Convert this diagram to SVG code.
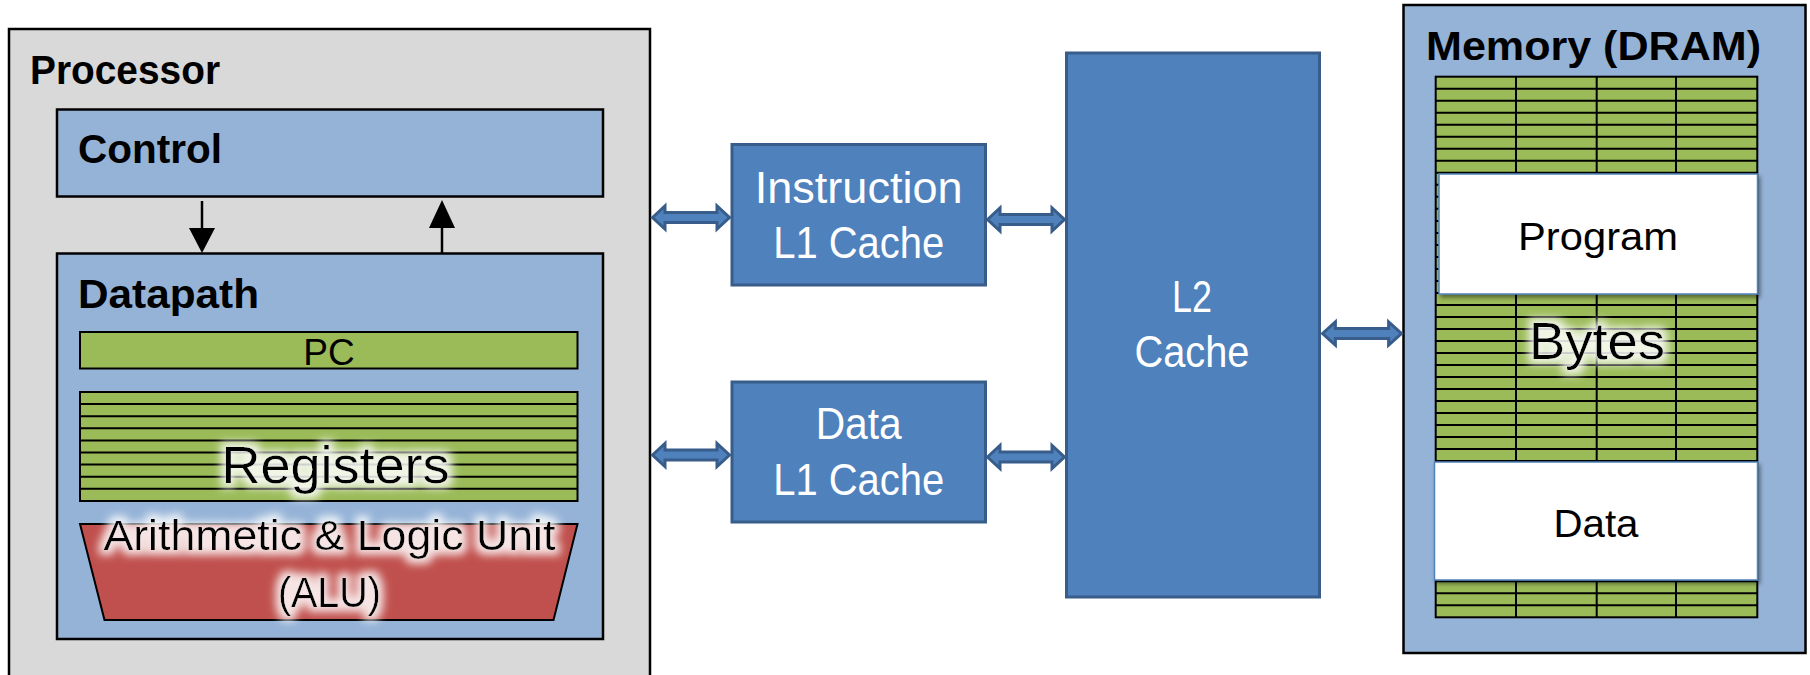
<svg xmlns="http://www.w3.org/2000/svg" width="1810" height="675" viewBox="0 0 1810 675">
<style>
.t{font-family:"Liberation Sans",Arial,sans-serif;}
.b{font-weight:bold;fill:#000;font-size:40px;}
.w{fill:#fff;font-size:44px;text-anchor:middle;}
.k{fill:#000;text-anchor:middle;}
.lt{fill:#95b3d7;stroke:#000;stroke-width:2.5;}
.gr{fill:#9bbb59;stroke:#000;stroke-width:2;}
.ln{fill:none;stroke:#000;stroke-width:2;}
.cache{fill:#4f81bd;stroke:#385d8a;stroke-width:3;}
.arr{fill:#4f81bd;stroke:#385d8a;stroke-width:3;stroke-linejoin:miter;}
.wb{fill:#fff;stroke:#4f81bd;stroke-width:1.5;}
</style>
<defs>
<filter id="glow" x="-30%" y="-60%" width="160%" height="220%">
<feMorphology in="SourceAlpha" operator="dilate" radius="5" result="d"/>
<feGaussianBlur in="d" stdDeviation="4" result="bl"/>
<feFlood flood-color="#ffffff" flood-opacity="0.85"/>
<feComposite in2="bl" operator="in" result="g"/>
<feMerge><feMergeNode in="g"/><feMergeNode in="SourceGraphic"/></feMerge>
</filter>
<filter id="shadow" x="-10%" y="-20%" width="120%" height="140%">
<feDropShadow dx="2" dy="3" stdDeviation="2" flood-color="#000" flood-opacity="0.45"/>
</filter>
<path id="dbl" d="M1.5,0 L14,-11.5 L14,-5 L66,-5 L66,-11.5 L78.5,0 L66,11.5 L66,5 L14,5 L14,11.5 Z"/>
</defs>

<g id="processor">
<rect x="9" y="29" width="641" height="660" fill="#d9d9d9" stroke="#000" stroke-width="2.5"/>
<text class="t b" x="30" y="84" textLength="190" lengthAdjust="spacingAndGlyphs">Processor</text>
</g>

<g id="control">
<rect class="lt" x="57" y="109.5" width="546" height="87"/>
<text class="t b" x="78" y="163" textLength="144" lengthAdjust="spacingAndGlyphs">Control</text>
</g>

<g id="datapath">
<rect class="lt" x="57" y="253.5" width="546" height="385.5"/>
<text class="t b" x="78" y="308" textLength="181" lengthAdjust="spacingAndGlyphs">Datapath</text>
</g>

<g id="pc">
<rect class="gr" x="80" y="332" width="497.5" height="36.5"/>
<text class="t k" x="329" y="365" font-size="37">PC</text>
</g>

<g id="registers">
<rect class="gr" x="80" y="392" width="497.5" height="109"/>
<path class="ln" d="M80,404.1H577.5M80,416.2H577.5M80,428.3H577.5M80,440.4H577.5M80,452.5H577.5M80,464.6H577.5M80,476.7H577.5M80,488.8H577.5"/>
<text class="t k" x="335.5" y="483" font-size="52" textLength="228" lengthAdjust="spacingAndGlyphs" filter="url(#glow)">Registers</text>
</g>

<g id="alu">
<path d="M80,524 L577.5,524 L553.5,620 L104.5,620 Z" fill="#c0504d" stroke="#000" stroke-width="2"/>
<g filter="url(#glow)">
<text class="t k" x="329.4" y="550" font-size="42" textLength="452" lengthAdjust="spacingAndGlyphs">Arithmetic &amp; Logic Unit</text>
<text class="t k" x="329.4" y="607" font-size="42" textLength="103" lengthAdjust="spacingAndGlyphs">(ALU)</text>
</g>
</g>

<g id="instruction-l1">
<rect class="cache" x="732" y="144.5" width="253.5" height="140.5"/>
<text class="t w" x="858.7" y="203" textLength="208" lengthAdjust="spacingAndGlyphs">Instruction</text>
<text class="t w" x="858.7" y="257.5" textLength="171" lengthAdjust="spacingAndGlyphs">L1 Cache</text>
</g>

<g id="data-l1">
<rect class="cache" x="732" y="382" width="253.5" height="140"/>
<text class="t w" x="858.7" y="439" textLength="86" lengthAdjust="spacingAndGlyphs">Data</text>
<text class="t w" x="858.7" y="495" textLength="171" lengthAdjust="spacingAndGlyphs">L1 Cache</text>
</g>

<g id="l2-cache">
<rect class="cache" x="1066.5" y="53" width="253" height="544"/>
<text class="t w" x="1192" y="312" textLength="40" lengthAdjust="spacingAndGlyphs">L2</text>
<text class="t w" x="1192" y="367" textLength="115" lengthAdjust="spacingAndGlyphs">Cache</text>
</g>

<g id="memory">
<rect x="1403.5" y="5" width="402" height="648" fill="#95b3d7" stroke="#000" stroke-width="2.5"/>
<text class="t b" x="1426" y="60" font-size="41" textLength="335" lengthAdjust="spacingAndGlyphs">Memory (DRAM)</text>
<rect class="gr" x="1435.7" y="76.7" width="321.6" height="540.6"/>
<path class="ln" stroke-width="1.8" d="M1435.7,88.7H1757.3M1435.7,100.7H1757.3M1435.7,112.7H1757.3M1435.7,124.8H1757.3M1435.7,136.8H1757.3M1435.7,148.8H1757.3M1435.7,160.8H1757.3M1435.7,172.8H1757.3M1435.7,184.8H1757.3M1435.7,196.8H1757.3M1435.7,208.8H1757.3M1435.7,220.9H1757.3M1435.7,232.9H1757.3M1435.7,244.9H1757.3M1435.7,256.9H1757.3M1435.7,268.9H1757.3M1435.7,280.9H1757.3M1435.7,292.9H1757.3M1435.7,305H1757.3M1435.7,317H1757.3M1435.7,329H1757.3M1435.7,341H1757.3M1435.7,353H1757.3M1435.7,365H1757.3M1435.7,377H1757.3M1435.7,389H1757.3M1435.7,401.1H1757.3M1435.7,413.1H1757.3M1435.7,425.1H1757.3M1435.7,437.1H1757.3M1435.7,449.1H1757.3M1435.7,461.1H1757.3M1435.7,473.1H1757.3M1435.7,485.1H1757.3M1435.7,497.2H1757.3M1435.7,509.2H1757.3M1435.7,521.2H1757.3M1435.7,533.2H1757.3M1435.7,545.2H1757.3M1435.7,557.2H1757.3M1435.7,569.2H1757.3M1435.7,581.2H1757.3M1435.7,593.3H1757.3M1435.7,605.3H1757.3M1516,76.7V617.3M1596.7,76.7V617.3M1676,76.7V617.3"/>
<text class="t k" x="1597" y="359" font-size="52" textLength="136" lengthAdjust="spacingAndGlyphs" filter="url(#glow)">Bytes</text>
</g>

<g id="program">
<rect class="wb" x="1439" y="174" width="318.5" height="120" filter="url(#shadow)"/>
<text class="t k" x="1598" y="250" font-size="38" textLength="160" lengthAdjust="spacingAndGlyphs">Program</text>
</g>

<g id="data">
<rect class="wb" x="1434.5" y="462" width="323" height="118" filter="url(#shadow)"/>
<text class="t k" x="1596" y="537" font-size="38" textLength="85" lengthAdjust="spacingAndGlyphs">Data</text>
</g>

<g id="connectors">
<path d="M202,201 V238" stroke="#000" stroke-width="2.5" fill="none"/>
<path d="M189,228 L215,228 L202,253 Z" fill="#000"/>
<path d="M442,253 V214" stroke="#000" stroke-width="2.5" fill="none"/>
<path d="M429,228 L455,228 L442,200 Z" fill="#000"/>
<use href="#dbl" class="arr" transform="translate(651,217.5)"/>
<use href="#dbl" class="arr" transform="translate(986,219.5)"/>
<use href="#dbl" class="arr" transform="translate(651,455)"/>
<use href="#dbl" class="arr" transform="translate(986,457)"/>
<use href="#dbl" class="arr" transform="translate(1321,333.5) scale(1.025,1)"/>
</g>
</svg>
